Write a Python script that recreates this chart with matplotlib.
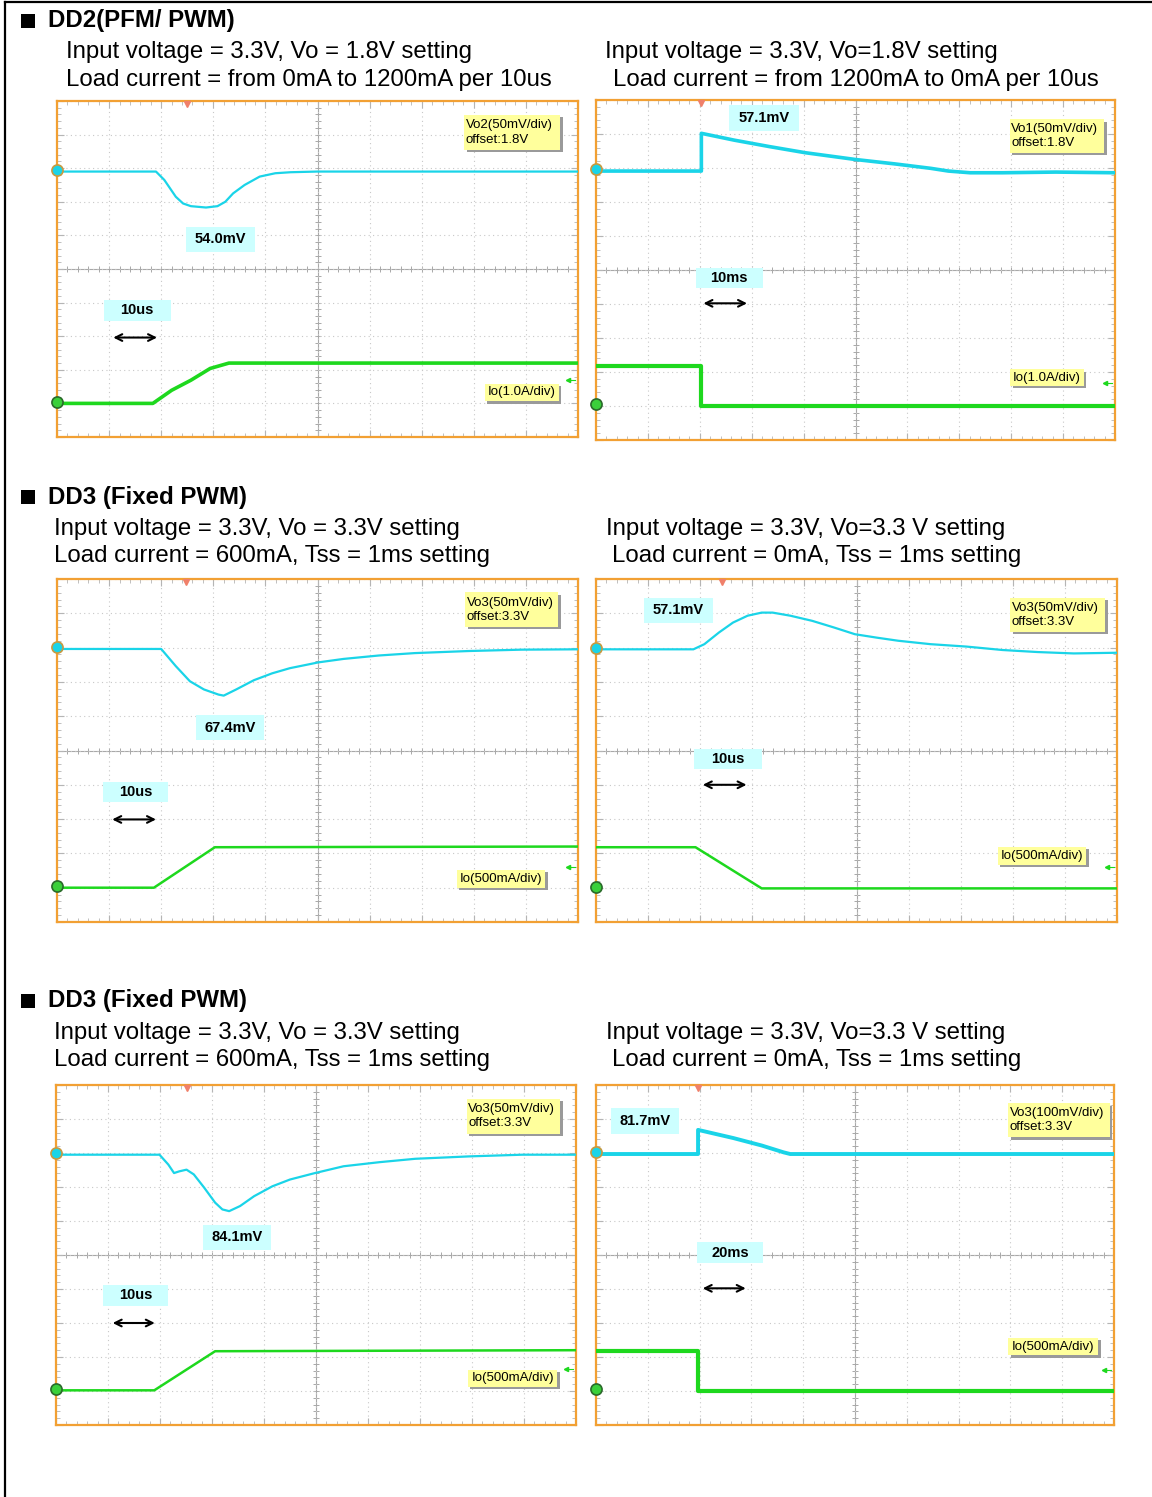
import numpy as np
import matplotlib
matplotlib.use('Agg')
import matplotlib.pyplot as plt
from matplotlib.patches import Rectangle

plt.rcParams['font.family'] = ['Liberation Sans', 'DejaVu Sans']

W, H = 1152, 1497

# traces, in scope divisions (x: 0..10, y: 0..10)
# DD2, load step 0 -> 1200mA
p1_vo_t = [0, 1.9, 2.06, 2.28, 2.42, 2.57, 2.86, 3.08, 3.23, 3.38, 3.60, 3.89, 4.19, 4.48, 4.99, 10]
p1_vo_v = [7.9, 7.9, 7.65, 7.15, 6.95, 6.87, 6.83, 6.87, 7.0, 7.25, 7.5, 7.75, 7.85, 7.88, 7.9, 7.9]
p1_io_t = [0, 1.84, 2.2, 2.57, 2.94, 3.3, 10]
p1_io_v = [1.0, 1.0, 1.39, 1.69, 2.04, 2.2, 2.2]
# DD2, load step 1200 -> 0mA
p2_vo_t = [0, 2.03, 2.03, 2.66, 3.34, 4.03, 5.0, 5.76, 6.45, 6.79, 7.21, 7.83, 8.86, 10]
p2_vo_v = [7.91, 7.91, 9.02, 8.82, 8.63, 8.45, 8.25, 8.12, 7.99, 7.91, 7.86, 7.86, 7.88, 7.86]
p2_io_t = [0, 2.03, 2.03, 10]
p2_io_v = [2.18, 2.18, 1.0, 1.0]
# DD3, 600mA step up
p3_vo_t = [0, 2.0, 2.28, 2.55, 2.82, 3.10, 3.20, 3.44, 3.78, 4.13, 4.47, 5.02, 5.50, 6.18, 6.87, 7.90, 8.92, 10]
p3_vo_v = [7.96, 7.96, 7.46, 7.02, 6.78, 6.63, 6.60, 6.78, 7.05, 7.25, 7.40, 7.57, 7.67, 7.77, 7.84, 7.90, 7.94, 7.95]
p3_io_t = [0, 1.86, 3.03, 10]
p3_io_v = [1.0, 1.0, 2.18, 2.2]
# DD3, step down to 0mA
p4_vo_t = [0, 1.87, 2.08, 2.36, 2.63, 2.91, 3.18, 3.39, 3.73, 4.15, 4.56, 4.97, 5.39, 5.80, 6.42, 7.11, 7.80, 8.48, 9.17, 10]
p4_vo_v = [7.95, 7.95, 8.10, 8.44, 8.73, 8.93, 9.02, 9.02, 8.93, 8.78, 8.59, 8.39, 8.29, 8.20, 8.10, 8.03, 7.93, 7.87, 7.83, 7.85]
p4_io_t = [0, 1.91, 3.18, 10]
p4_io_v = [2.18, 2.18, 0.98, 0.98]
# DD3 (second set), step up
p5_vo_t = [0, 1.99, 2.16, 2.27, 2.37, 2.51, 2.65, 2.85, 3.06, 3.20, 3.33, 3.54, 3.81, 4.16, 4.50, 4.98, 5.53, 6.22, 6.91, 7.94, 8.97, 10]
p5_vo_v = [7.95, 7.95, 7.66, 7.41, 7.46, 7.51, 7.37, 6.98, 6.54, 6.34, 6.29, 6.44, 6.73, 7.02, 7.22, 7.41, 7.61, 7.73, 7.83, 7.90, 7.95, 7.95]
p5_io_t = [0, 1.89, 3.06, 10]
p5_io_v = [1.02, 1.02, 2.17, 2.2]
# DD3 (second set), step down
p6_vo_t = [0, 1.97, 1.97, 2.65, 3.20, 3.62, 3.75, 10]
p6_vo_v = [7.97, 7.97, 8.68, 8.44, 8.22, 8.02, 7.97, 7.97]
p6_io_t = [0, 1.97, 1.97, 10]
p6_io_v = [2.18, 2.18, 1.01, 1.01]

ch_labels = ['Vo2(50mV/div)\noffset:1.8V', 'Vo1(50mV/div)\noffset:1.8V',
             'Vo3(50mV/div)\noffset:3.3V', 'Vo3(50mV/div)\noffset:3.3V',
             'Vo3(50mV/div)\noffset:3.3V', 'Vo3(100mV/div)\noffset:3.3V']
io_labels = ['Io(1.0A/div)', 'Io(1.0A/div)', 'Io(500mA/div)',
             'Io(500mA/div)', 'Io(500mA/div)', 'Io(500mA/div)']
peak_labels = ['54.0mV', '57.1mV', '67.4mV', '57.1mV', '84.1mV', '81.7mV']
time_labels = ['10us', '10ms', '10us', '10us', '10us', '20ms']

sections = ['DD2(PFM/ PWM)', 'DD3 (Fixed PWM)', 'DD3 (Fixed PWM)']
left_notes = [('Input voltage = 3.3V, Vo = 1.8V setting',
               'Load current = from 0mA to 1200mA per 10us'),
              ('Input voltage = 3.3V, Vo = 3.3V setting',
               'Load current = 600mA, Tss = 1ms setting'),
              ('Input voltage = 3.3V, Vo = 3.3V setting',
               'Load current = 600mA, Tss = 1ms setting')]
right_notes = [('Input voltage = 3.3V, Vo=1.8V setting',
                'Load current = from 1200mA to 0mA per 10us'),
               ('Input voltage = 3.3V, Vo=3.3 V setting',
                'Load current = 0mA, Tss = 1ms setting'),
               ('Input voltage = 3.3V, Vo=3.3 V setting',
                'Load current = 0mA, Tss = 1ms setting')]

traces = [(p1_vo_t, p1_vo_v, p1_io_t, p1_io_v),
          (p2_vo_t, p2_vo_v, p2_io_t, p2_io_v),
          (p3_vo_t, p3_vo_v, p3_io_t, p3_io_v),
          (p4_vo_t, p4_vo_v, p4_io_t, p4_io_v),
          (p5_vo_t, p5_vo_v, p5_io_t, p5_io_v),
          (p6_vo_t, p6_vo_v, p6_io_t, p6_io_v)]

# layout (pixels / divisions)
panel_px = [(57, 101, 578, 437), (596, 100, 1115, 440),
            (57, 579, 578, 922), (596, 579, 1117, 922),
            (56, 1085, 576, 1425), (596, 1085, 1114, 1425)]
ch_box = [(7.82, 8.54, 9.66, 9.58), (7.97, 8.45, 9.79, 9.43),
          (7.83, 8.60, 9.62, 9.61), (7.95, 8.46, 9.77, 9.46),
          (7.90, 8.57, 9.70, 9.59), (7.96, 8.46, 9.92, 9.46)]
io_box = [(8.21, 1.06, 9.63, 1.59), (7.98, 1.59, 9.40, 2.08),
          (7.67, 1.00, 9.37, 1.53), (7.71, 1.66, 9.41, 2.20),
          (7.92, 1.12, 9.64, 1.63), (7.96, 2.05, 9.69, 2.56)]
peak_box = [(2.47, 5.51, 3.80, 6.26), (2.57, 9.10, 3.91, 9.85),
            (2.67, 5.30, 3.98, 6.03), (0.92, 8.73, 2.24, 9.46),
            (2.83, 5.15, 4.14, 5.88), (0.29, 8.57, 1.61, 9.32)]
time_box = [(0.90, 3.46, 2.18, 4.07), (1.92, 4.48, 3.21, 5.07),
            (0.88, 3.50, 2.14, 4.09), (1.89, 4.47, 3.18, 5.05),
            (0.90, 3.51, 2.16, 4.12), (1.95, 4.76, 3.22, 5.37)]
arrows = [(1.08, 1.92, 2.96), (2.07, 2.91, 4.02), (1.06, 1.90, 2.99),
          (2.05, 2.89, 4.00), (1.09, 1.90, 3.00), (2.06, 2.89, 4.02)]
trig_x = [2.5, 2.03, 2.48, 2.42, 2.51, 1.97]
io_arrow_y = [1.69, 1.67, 1.60, 1.60, 1.64, 1.63]
vo_lw = [1.6, 2.6, 1.6, 1.6, 1.6, 2.8]
io_lw = [2.6, 3.0, 1.8, 1.8, 1.8, 3.0]

CYAN = '#1ad4e8'
GREEN = '#1ed81e'
ORANGE = '#f2a033'

fig = plt.figure(figsize=(W / 100, H / 100), dpi=100)


def fx(x):
    return x / W


def fy(y):
    return 1 - y / H


def label_box(ax, rect, text, face, bold=False, shadow=False, align='center'):
    x0, y0, x1, y1 = rect
    if shadow:
        ax.add_patch(Rectangle((x0 + 0.05, y0 - 0.07), x1 - x0, y1 - y0,
                               facecolor='#9a9a9a', edgecolor='none',
                               clip_on=False, zorder=5))
    ax.add_patch(Rectangle((x0, y0), x1 - x0, y1 - y0, facecolor=face,
                           edgecolor='none', clip_on=False, zorder=6))
    if align == 'center':
        ax.text((x0 + x1) / 2, (y0 + y1) / 2, text, ha='center', va='center',
                fontsize=10.5 if bold else 9.5,
                fontweight='bold' if bold else 'normal', zorder=7)
    else:
        ax.text(x0 + 0.03, (y0 + y1) / 2, text, ha='left', va='center',
                fontsize=9.5, linespacing=1.25, zorder=7)


for i, (l, t, r, b) in enumerate(panel_px):
    ax = fig.add_axes([fx(l), fy(b), (r - l) / W, (b - t) / H])
    ax.set_xlim(0, 10)
    ax.set_ylim(0, 10)
    ax.set_xticks(np.arange(0, 11, 1))
    ax.set_yticks(np.arange(0, 11, 1))
    ax.set_xticks(np.arange(0, 10.01, 0.2), minor=True)
    ax.set_yticks(np.arange(0, 10.01, 0.2), minor=True)
    ax.tick_params(which='both', direction='in', top=True, right=True,
                   labelbottom=False, labelleft=False, color='#b5b5b5')
    ax.tick_params(which='major', length=5, width=0.8)
    ax.tick_params(which='minor', length=3, width=0.6)
    ax.grid(True, which='major', color='#c8c8c8', linestyle=(0, (1, 3)),
            linewidth=0.8)
    for s in ax.spines.values():
        s.set_color(ORANGE)
        s.set_linewidth(1.6)

    # center crosshair with its small ticks
    ax.axhline(5, color='#a8a8a8', lw=0.8, zorder=1)
    ax.axvline(5, color='#a8a8a8', lw=0.8, zorder=1)
    minor = np.arange(0, 10.01, 0.2)
    ax.plot(minor, np.full_like(minor, 5), ls='none', marker='|', ms=4,
            color='#a8a8a8', mew=0.7, zorder=1)
    ax.plot(np.full_like(minor, 5), minor, ls='none', marker='_', ms=4,
            color='#a8a8a8', mew=0.7, zorder=1)

    vo_t, vo_v, io_t, io_v = traces[i]
    ax.plot(vo_t, vo_v, color=CYAN, lw=vo_lw[i], zorder=3,
            solid_joinstyle='round')
    ax.plot(io_t, io_v, color=GREEN, lw=io_lw[i], zorder=3,
            solid_joinstyle='round')

    # channel ground markers (at the no-load level), trigger markers
    ax.plot([0], [vo_v[0] + 0.05], marker='o', ms=8, mfc=CYAN,
            mec='#c89a40', mew=1.2, clip_on=False, zorder=8)
    ax.plot([0], [min(io_v) + 0.05], marker='o', ms=8, mfc='#3ad03a',
            mec='#2a6a2a', mew=1.2, clip_on=False, zorder=8)
    ax.plot([trig_x[i]], [9.92], marker='v', ms=5, color='#f0806a',
            clip_on=False, zorder=8)
    ax.plot([9.8, 9.95], [io_arrow_y[i]] * 2, color=GREEN, lw=0.8, zorder=3)
    ax.plot([9.8], [io_arrow_y[i]], marker='<', ms=3, color=GREEN, zorder=3)

    label_box(ax, ch_box[i], ch_labels[i], '#ffff9c', shadow=True, align='left')
    label_box(ax, io_box[i], io_labels[i], '#ffff9c', shadow=True)
    label_box(ax, peak_box[i], peak_labels[i], '#ccffff', bold=True)
    label_box(ax, time_box[i], time_labels[i], '#ccffff', bold=True)

    x0, x1, ya = arrows[i]
    ax.annotate('', xy=(x1, ya), xytext=(x0, ya),
                arrowprops=dict(arrowstyle='<->', color='black', lw=1.5,
                                mutation_scale=12, shrinkA=0, shrinkB=0))

# section headings and test conditions
title_y = [21, 497, 1001]
note_y = [(52, 80), (529, 556), (1033, 1060)]
left_x = [(66, 66), (54, 54), (54, 54)]
right_x = [(605, 613), (606, 612), (606, 612)]
for k in range(3):
    fig.patches.append(Rectangle((fx(21), fy(title_y[k] + 7)), 14 / W, 14 / H,
                                 facecolor='black', transform=fig.transFigure))
    fig.text(fx(48), fy(title_y[k]), sections[k], fontsize=17.3,
             fontweight='bold', va='center', ha='left')
    for j in range(2):
        fig.text(fx(left_x[k][j]), fy(note_y[k][j]), left_notes[k][j],
                 fontsize=17.3, va='center', ha='left')
        fig.text(fx(right_x[k][j]), fy(note_y[k][j]), right_notes[k][j],
                 fontsize=17.3, va='center', ha='left')

# page frame (top and left edge)
fig.add_artist(plt.Line2D([fx(5), 1], [fy(2), fy(2)], color='black', lw=1.6))
fig.add_artist(plt.Line2D([fx(5), fx(5)], [fy(2), 0], color='black', lw=1.6))

fig.savefig('out.png', dpi=100)
